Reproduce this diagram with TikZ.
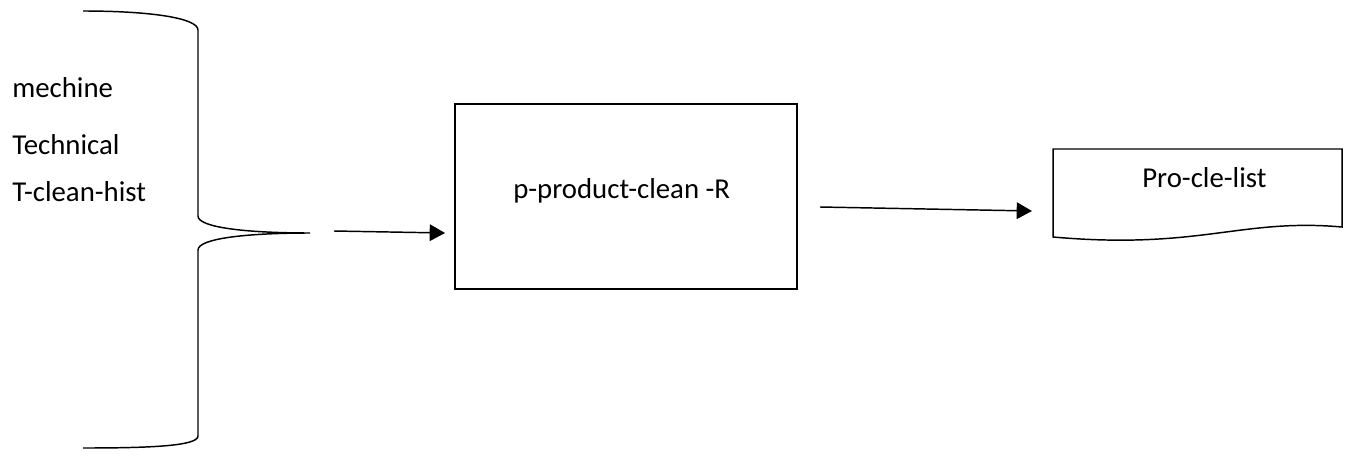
\documentclass[tikz,border=0pt]{standalone}
\usepackage{fontspec}
\setmainfont{Carlito}
\usetikzlibrary{arrows.meta}
\begin{document}
\begin{tikzpicture}[x=0.75pt,y=-0.75pt,
  lbl/.style={font=\fontsize{21.6}{26}\selectfont, inner sep=0pt, anchor=base west},
  flow/.style={line width=1.1pt, -{Triangle[length=11.5pt,width=12.5pt]}}]
\useasboundingbox (0,0) rectangle (1351,460);
% brace
\coordinate (tip) at (310,233);
\draw[line width=1.1pt] (83,11) .. controls (150,11) and (198,18) .. (198,30)
  -- (198,216) .. controls (198,228) and (250,233) .. (tip)
  .. controls (250,233) and (198,238) .. (198,250)
  -- (198,436) .. controls (198,446) and (150,448) .. (83,448);
% labels
\node[lbl] (m) at (12,98) {mechine};
\node[lbl] (t) at (12,154) {Technical};
\node[lbl] (h) at (12,201) {T-clean-hist};
% process box
\node[draw, line width=1.4pt, minimum width=342*0.75pt, minimum height=185*0.75pt, inner sep=0pt] (box) at (626,196.5) {};
\node[lbl] (boxtxt) at (513,198) {p-product-clean -R};
% document
\draw[line width=1.1pt] (1053,149) -- (1342,149) -- (1342,227)
  .. controls (1240,218) and (1200,250) .. (1053,237) -- cycle;
\node[lbl] (doc) at (1142,187) {Pro-cle-list};
% arrows
\coordinate (a1s) at (334,231);
\coordinate (a1e) at (445,233);
\coordinate (a2s) at (820,207);
\coordinate (a2e) at (1032,211);
\draw[flow] (a1s) -- (a1e);
\draw[flow] (a2s) -- (a2e);
\end{tikzpicture}
\end{document}
